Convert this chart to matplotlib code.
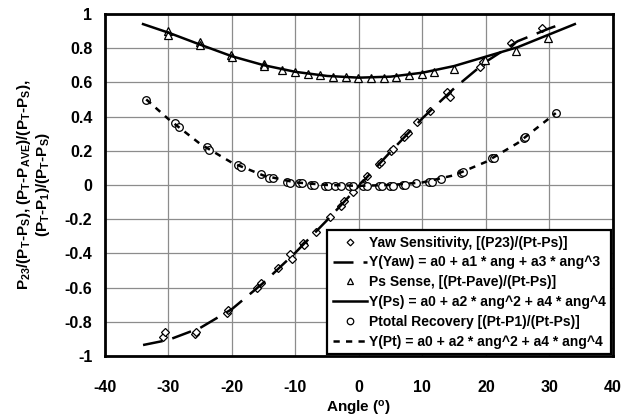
import numpy as np
import matplotlib
matplotlib.use("Agg")
import matplotlib.pyplot as plt

FONT = ['Liberation Sans', 'DejaVu Sans']
plt.rcParams['font.family'] = FONT
plt.rcParams['font.weight'] = 'bold'
plt.rcParams['axes.unicode_minus'] = False
plt.rcParams['mathtext.fontset'] = 'custom'
plt.rcParams['mathtext.rm'] = 'Liberation Sans:weight=bold'
plt.rcParams['mathtext.it'] = 'Liberation Sans:weight=bold'
plt.rcParams['mathtext.bf'] = 'Liberation Sans:weight=bold'
plt.rcParams['mathtext.default'] = 'rm'

# yaw sensitivity data
yaw_ang = [-30.8, -30.5, -25.8, -25.6, -20.8, -20.6, -16.0, -15.5, -12.7, -10.9, -10.5,
           -8.8, -8.6, -6.7, -4.6, -2.9, -2.4, -1.0, 0.7, 1.2, 3.1, 3.5, 5.1, 5.4,
           7.1, 7.7, 9.2, 11.2, 13.9, 14.4, 19.0, 19.6, 24.0, 28.9]
yaw_val = [-0.89, -0.86, -0.87, -0.86, -0.745, -0.73, -0.60, -0.57, -0.487, -0.405, -0.433,
           -0.337, -0.351, -0.277, -0.187, -0.121, -0.095, -0.042, 0.01, 0.05, 0.12, 0.136,
           0.197, 0.213, 0.282, 0.302, 0.37, 0.434, 0.545, 0.516, 0.692, 0.72, 0.829, 0.918]
# fit curve read at angles
yaw_fit_ang = [-34, -30, -25, -20, -15, -10, -5, 0, 5, 10, 15, 20, 25, 30, 31.5]
yaw_fit_val = [-0.935, -0.905, -0.835, -0.725, -0.57, -0.395, -0.205, -0.005, 0.195,
               0.39, 0.565, 0.72, 0.84, 0.915, 0.935]

# Ps sense data
ps_ang = [-30.0, -30.0, -25.0, -25.0, -20.1, -20.0, -15.0, -15.0, -12.1, -10.1, -8.0, -6.1, -4.1,
          -2.1, -0.1, 1.9, 3.9, 5.8, 7.9, 9.9, 11.9, 14.9, 19.9, 24.8, 29.7]
ps_val = [0.90, 0.877, 0.835, 0.82, 0.76, 0.75, 0.705, 0.695, 0.673, 0.659, 0.647, 0.641, 0.632,
          0.628, 0.624, 0.624, 0.624, 0.628, 0.64, 0.651, 0.663, 0.677, 0.731, 0.785, 0.858]
ps_fit_ang = [-34, -30, -25, -20, -15, -10, -5, 0, 5, 10, 15, 20, 25, 30, 34]
ps_fit_val = [0.94, 0.89, 0.82, 0.752, 0.70, 0.661, 0.637, 0.627, 0.633, 0.656, 0.695,
              0.75, 0.805, 0.88, 0.94]

# Ptotal recovery data
pt_ang = [-33.5, -29.0, -28.4, -24.0, -23.6, -19.0, -18.5, -15.5, -14.1, -13.5, -11.4, -10.9,
          -9.4, -8.9, -7.5, -7.0, -5.4, -4.9, -3.7, -2.9, -1.5, -1.0, 0.6, 1.2, 3.1, 3.6,
          4.9, 5.4, 6.9, 7.3, 9.0, 11.0, 11.5, 12.9, 16.0, 16.4, 21.0, 21.3, 26.0, 26.2, 31.0]
pt_val = [0.497, 0.364, 0.341, 0.22, 0.205, 0.117, 0.107, 0.063, 0.039, 0.039, 0.019, 0.013,
          0.01, 0.01, 0.0, 0.0, -0.005, -0.005, -0.005, -0.005, -0.005, -0.005, -0.005, -0.005,
          -0.005, -0.005, -0.005, -0.005, 0.0, 0.0, 0.01, 0.019, 0.02, 0.033, 0.072, 0.078,
          0.156, 0.16, 0.273, 0.282, 0.419]
pt_fit_ang = [-33.5, -30, -25, -20, -15, -10, -5, 0, 5, 10, 15, 20, 25, 31]
pt_fit_val = [0.50, 0.385, 0.24, 0.13, 0.055, 0.015, 0.0, -0.005, 0.0, 0.015, 0.057,
              0.135, 0.245, 0.42]

xticks = [-40, -30, -20, -10, 0, 10, 20, 30, 40]
yticks = [-1, -0.8, -0.6, -0.4, -0.2, 0, 0.2, 0.4, 0.6, 0.8, 1]
ytick_labels = ['-1', '-0.8', '-0.6', '-0.4', '-0.2', '0', '0.2', '0.4', '0.6', '0.8', '1']

fig = plt.figure(figsize=(6.21, 4.19), dpi=100)
ax = fig.add_axes([0.169, 0.150, 0.818, 0.817])

ax.plot(yaw_ang, yaw_val, 'D', ms=4, mfc='white', mec='black', mew=0.9,
        label='Yaw Sensitivity, [(P23)/(Pt-Ps)]')
ax.plot(yaw_fit_ang, yaw_fit_val, color='black', lw=1.8, dashes=(8, 4),
        label='Y(Yaw) = a0 + a1 * ang + a3 * ang^3')
ax.plot(ps_ang, ps_val, '^', ms=5.5, mfc='white', mec='black', mew=0.9,
        label='Ps Sense, [(Pt-Pave)/(Pt-Ps)]')
ax.plot(ps_fit_ang, ps_fit_val, color='black', lw=1.8,
        label='Y(Ps) = a0 + a2 * ang^2 + a4 * ang^4')
ax.plot(pt_ang, pt_val, 'o', ms=5.5, mfc='white', mec='black', mew=0.9,
        label='Ptotal Recovery [(Pt-P1)/(Pt-Ps)]')
ax.plot(pt_fit_ang, pt_fit_val, color='black', lw=1.8, dashes=(2.5, 2.5),
        label='Y(Pt) = a0 + a2 * ang^2 + a4 * ang^4')

ax.set_xlim(-40, 40)
ax.set_ylim(-1, 1)
ax.set_xticks(xticks)
ax.set_xticklabels([str(t) for t in xticks], fontweight='bold', fontsize=11.5)
ax.set_yticks(yticks)
ax.set_yticklabels(ytick_labels, fontweight='bold', fontsize=11.5)
ax.grid(True, color='#8c8c8c', lw=0.9)
ax.tick_params(length=0)
ax.tick_params(axis='x', pad=17)
ax.tick_params(axis='y', pad=9)
for s in ax.spines.values():
    s.set_linewidth(2)

ax.set_xlabel('Angle ($^{o}$)', fontsize=11, fontweight='bold', labelpad=3)
ax.set_ylabel('P$_{23}$/(P$_T$-P$_S$), (P$_T$-P$_{AVE}$)/(P$_T$-P$_S$),\n(P$_T$-P$_1$)/(P$_T$-P$_S$)',
              fontsize=11, fontweight='bold', linespacing=1.1)
ax.yaxis.set_label_coords(-0.104, 0.5)

leg = ax.legend(loc='lower right', prop={'family': FONT, 'weight': 'bold', 'size': 10},
                frameon=True, fancybox=False, edgecolor='black', framealpha=1,
                borderaxespad=0.15, handlelength=2.45, handletextpad=0.15,
                labelspacing=0.42, borderpad=0.38, markerscale=0.85)
leg.get_frame().set_linewidth(1.6)

fig.savefig('out.png', dpi=100)
